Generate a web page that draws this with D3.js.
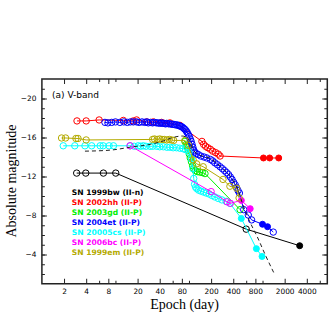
<!DOCTYPE html>
<html>
<head>
<meta charset="utf-8">
<script src="https://cdn.jsdelivr.net/npm/d3@7"></script>
<style>
  body { margin: 0; background: #fff; }
  svg { display: block; }
</style>
</head>
<body>
<svg id="chart"></svg>
<script>
// [day, absolute magnitude, filled?]
const sn1999bw = [[2.97,-12.35],[3.95,-12.35],[6.86,-12.35],[10.1,-12.35],[600,-6.6],[3200,-4.9,1]];
const sn2002hh = [[3,-17.7],[4,-17.7],[6,-17.8],[12.8,-17.75],[17.5,-17.7],[19.4,-17.8],[26.6,-17.6],[32.7,-17.6],
  [42.4,-17.55],[55,-17.5],[75,-17.25],[150,-15.6],[158,-15.3],[168,-15.1],[180,-14.95],[195,-14.8],[210,-14.6],
  [230,-14.45],[250,-14.3],[265,-14.1],[1030,-13.9,1],[1250,-13.9,1],[1660,-13.9,1]];
const sn2003gd = [[88,-15.6],[92,-15.3],[95,-15.0],[98,-14.7],[101,-14.3],[104,-13.9],[108,-13.5],[112,-13.1],
  [116,-12.8],[122,-12.6],[130,-12.5],[140,-12.45],[152,-12.4],[165,-12.3],[495,-8.6]];
const sn2004et = [[7.2,-17.55],[7.9,-17.5],[8.9,-17.55],[10,-17.6],[11.5,-17.55],[13,-17.6],[14.5,-17.55],[16,-17.6],
  [17.5,-17.6],[19.4,-17.6],[21,-17.55],[23,-17.6],[25,-17.55],[26.7,-17.6],[28,-17.5],[30,-17.55],[32,-17.5],
  [34,-17.55],[36,-17.5],[38,-17.5],[40,-17.45],[42,-17.5],[44,-17.45],[46,-17.45],[48,-17.4],[50,-17.45],
  [53,-17.4],[56,-17.4],[59,-17.35],[62,-17.35],[65,-17.3],[68,-17.3],[71,-17.25],[74,-17.2],[77,-17.15],
  [80,-17.1],[83,-17.0],[86,-16.9],[89,-16.8],[92,-16.65],[95,-16.5],[98,-16.3],[101,-16.1],[104,-15.85],
  [107,-15.6],[110,-15.3],[113,-15.0],[116,-14.7],[120,-14.5],[126,-14.35],[134,-14.25],[145,-14.1],[160,-14.0],
  [175,-13.9],[195,-13.75],[210,-13.6],[225,-13.4],[245,-13.2],[265,-13.0],[285,-12.8],[305,-12.6],[325,-12.4],
  [345,-12.2],[365,-11.95],[385,-11.7],[405,-11.4],[425,-11.15],[445,-10.85],[465,-10.55],[485,-10.3],
  [555,-8.6],[640,-8.05],[710,-7.55],[1000,-7.1,1],[1170,-6.85,1],[1400,-6.3]];
const sn2005cs = [[1.95,-15.15],[2.8,-15.15],[3.85,-15.15],[4.75,-15.15],[6.2,-15.15],[6.8,-15.15],[8.2,-15.15],
  [9.4,-15.15],[15.8,-15.15],[18,-15.1],[20.4,-15.15],[22,-15.1],[23.9,-15.15],[26,-15.1],[29.5,-15.1],[32,-15.1],
  [36.4,-15.1],[40,-15.05],[44.8,-15.05],[50,-15.0],[55,-15.0],[61,-14.95],[67.6,-14.95],[75,-14.9],[83,-14.85],
  [90,-14.75],[100,-14.5],[108,-13.8],[113,-12.8],[116,-11.8],[119,-11.2],[123,-10.9],[128,-10.75],[135,-10.6],
  [145,-10.5],[158,-10.4],[172,-10.3],[188,-10.2],[205,-10.05],[225,-9.9],[250,-9.75],[280,-9.6],[320,-9.45],
  [360,-9.25],[515,-7.7,1],[825,-4.6,1],[985,-3.8,1]];
const sn2006bc = [[15.8,-15.15],[200,-10.45],[330,-9.4],[365,-9.25],[515,-9.55,1],[680,-8.7,1]];
const sn1999em = [[1.85,-15.95],[2.1,-15.95],[2.9,-15.9],[3.1,-15.9],[4.0,-15.75],[32,-15.8],[34,-15.85],[37,-15.8],
  [40,-15.85],[43,-15.8],[46,-15.8],[50,-15.75],[54,-15.8],[58,-15.75],[62,-15.7],[88,-15.7],[98,-15.2],
  [114,-13.7],[127,-13.3],[156,-13.0],[290,-11.7],[360,-11.0],[445,-10.8],[480,-9.8]];
// dashed template curve
const template = [[3.85,-14.6],[8.4,-14.7],[17.3,-15.05],[30,-15.3],[45,-15.65],[60,-16.0],[81,-16.15],[100,-15.8],
  [110,-15.0],[125,-14.4],[200,-13.8],[300,-12.7],[400,-11.6],[460,-10.7],[530,-9.3],[650,-7.6],[850,-5.8],
  [1100,-3.9],[1430,-2.1]];

const seriesNames = ["SN 1999bw (II-n)","SN 2002hh (II-P)","SN 2003gd (II-P)","SN 2004et (II-P)",
  "SN 20005cs (II-P)","SN 2006bc (II-P)","SN 1999em (II-P)"];
const seriesData = [sn1999bw, sn2002hh, sn2003gd, sn2004et, sn2005cs, sn2006bc, sn1999em];
const seriesColors = ["#000000","#ff0000","#00ee00","#0000ff","#00ffff","#ff00ff","#b4aa00"];

const xMajor = [2,4,8,20,40,80,200,400,800,2000,4000];
const xMinor = [6,10,60,100,600,1000,6000];
const yMajor = [-20,-16,-12,-8,-4];
const yMinor = d3.range(-21,-1);

const W = 335, H = 335;
const svg = d3.select("#chart").attr("width", W).attr("height", H);

const x = d3.scaleLog().domain([1, 7600]).range([41.9, 327.3]);
const y = d3.scaleLinear().domain([-22, -1]).range([79, 283.75]);

const plot = svg.append("g");

const line = d3.line().x(d => x(d[0])).y(d => y(d[1]));

seriesData.forEach((data, i) => {
  const c = seriesColors[i];
  plot.append("path").datum(data).attr("d", line)
    .attr("fill", "none").attr("stroke", c).attr("stroke-width", 1);
  plot.selectAll(null).data(data).enter().append("circle")
    .attr("cx", d => x(d[0])).attr("cy", d => y(d[1]))
    .attr("r", d => d[2] ? 3 : 3.2)
    .attr("fill", d => d[2] ? c : "none")
    .attr("stroke", c).attr("stroke-width", 1);
});

plot.append("path").datum(template).attr("d", line.curve(d3.curveMonotoneX))
  .attr("fill", "none").attr("stroke", "#222").attr("stroke-width", 1)
  .attr("stroke-dasharray", "4,3");

// axes with inward ticks
const font = "DejaVu Sans";
const styleAxis = g => {
  g.select(".domain").remove();
  g.selectAll("line").attr("stroke", "#222").attr("stroke-width", 1);
  g.selectAll("text").attr("font-family", font).attr("font-size", 7.4).attr("fill", "#000");
};
const x0 = x.range()[0], x1 = x.range()[1], y0 = y.range()[0], y1 = y.range()[1];

svg.append("g").attr("transform", `translate(0,${y1})`)
  .call(d3.axisBottom(x).tickValues(xMajor).tickSize(-5).tickPadding(4.5).tickFormat(d3.format("d"))).call(styleAxis);
svg.append("g").attr("transform", `translate(0,${y1})`)
  .call(d3.axisBottom(x).tickValues(xMinor).tickSize(-3).tickFormat("")).call(styleAxis);
svg.append("g").attr("transform", `translate(0,${y0})`)
  .call(d3.axisTop(x).tickValues(xMajor).tickSize(-5).tickFormat("")).call(styleAxis);
svg.append("g").attr("transform", `translate(0,${y0})`)
  .call(d3.axisTop(x).tickValues(xMinor).tickSize(-3).tickFormat("")).call(styleAxis);

svg.append("g").attr("transform", `translate(${x0},0)`)
  .call(d3.axisLeft(y).tickValues(yMajor).tickSize(-5).tickPadding(5.5).tickFormat(d => "\u2212" + Math.abs(d))).call(styleAxis);
svg.append("g").attr("transform", `translate(${x0},0)`)
  .call(d3.axisLeft(y).tickValues(yMinor).tickSize(-3).tickFormat("")).call(styleAxis);
svg.append("g").attr("transform", `translate(${x1},0)`)
  .call(d3.axisRight(y).tickValues(yMajor).tickSize(-5).tickFormat("")).call(styleAxis);
svg.append("g").attr("transform", `translate(${x1},0)`)
  .call(d3.axisRight(y).tickValues(yMinor).tickSize(-3).tickFormat("")).call(styleAxis);

svg.append("rect").attr("x", x0).attr("y", y0).attr("width", x1 - x0).attr("height", y1 - y0)
  .attr("fill", "none").attr("stroke", "#222").attr("stroke-width", 1.5);

// labels
svg.append("text").attr("x", 52).attr("y", 98).attr("font-family", font).attr("font-size", 9)
  .text("(a) V-band");

svg.append("g").selectAll("text").data(seriesNames).enter().append("text")
  .attr("x", 71.7).attr("y", (d, i) => 195.3 + i * 9.95)
  .attr("font-family", font).attr("font-size", 7.6).attr("font-weight", "bold")
  .attr("fill", (d, i) => seriesColors[i])
  .text(d => d);

svg.append("text").attr("x", (x0 + x1) / 2).attr("y", 309).attr("text-anchor", "middle")
  .attr("font-family", "Liberation Serif").attr("font-size", 14).text("Epoch (day)");
svg.append("text").attr("transform", "translate(16,181) rotate(-90)").attr("text-anchor", "middle")
  .attr("font-family", "Liberation Serif").attr("font-size", 14).text("Absolute magnitude");
</script>
</body>
</html>
